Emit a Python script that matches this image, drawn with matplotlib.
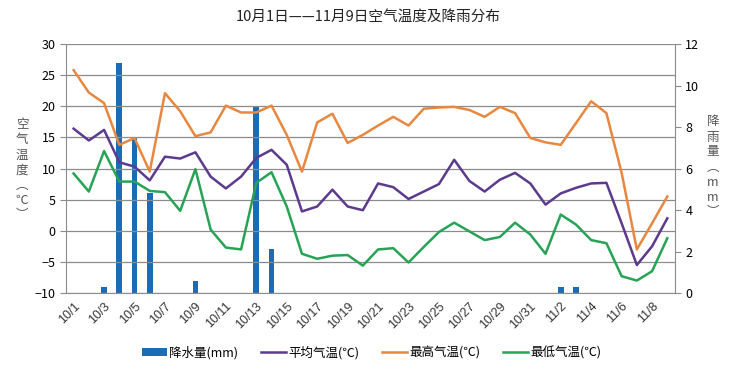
import numpy as np
import matplotlib
matplotlib.use('Agg')
import matplotlib.pyplot as plt

plt.rcParams['font.family'] = ['Noto Sans CJK SC', 'DejaVu Sans']

#---------------- data ----------------
dates = ['10/%d' % d for d in range(1, 32)] + ['11/%d' % d for d in range(1, 10)]

rain = [0, 0, 0.3, 11.1, 7.5, 4.8, 0, 0, 0.6, 0,
        0, 0, 9.0, 2.1, 0, 0, 0, 0, 0, 0,
        0, 0, 0, 0, 0, 0, 0, 0, 0, 0,
        0, 0, 0.3, 0.3, 0, 0, 0, 0, 0, 0]

t_mean = [16.4, 14.5, 16.2, 11.0, 10.3, 8.1, 11.9, 11.6, 12.6, 8.7,
          6.8, 8.7, 11.7, 13.0, 10.6, 3.1, 3.9, 6.6, 3.9, 3.3,
          7.6, 7.0, 5.1, 6.3, 7.5, 11.4, 8.0, 6.3, 8.2, 9.3,
          7.6, 4.2, 6.0, 6.9, 7.6, 7.7, 1.2, -5.5, -2.5, 2.0]

t_max = [25.8, 22.2, 20.5, 13.8, 14.9, 9.5, 22.1, 19.2, 15.2, 15.8,
         20.1, 19.0, 19.0, 20.1, 15.4, 9.5, 17.4, 18.8, 14.1, 15.4,
         16.9, 18.3, 16.9, 19.6, 19.8, 19.9, 19.4, 18.3, 19.9, 18.9,
         14.9, 14.2, 13.8, 17.3, 20.8, 18.9, 9.3, -3.0, 1.2, 5.5]

t_min = [9.2, 6.3, 12.8, 7.9, 7.9, 6.4, 6.2, 3.2, 9.9, 0.2,
         -2.7, -3.0, 7.7, 9.4, 3.9, -3.7, -4.5, -4.0, -3.9, -5.6,
         -3.0, -2.8, -5.1, -2.6, -0.2, 1.3, -0.1, -1.5, -1.0, 1.3,
         -0.6, -3.7, 2.6, 1.0, -1.5, -2.0, -7.3, -8.0, -6.5, -1.2]

left_title = ['空', '气', '温', '度', '︵', '℃', '︶']
right_title = ['降', '雨', '量', '︵', 'm', 'm', '︶']
#--------------------------------------

x = np.arange(len(dates))

fig = plt.figure(figsize=(7.36, 3.71), dpi=100)
ax = fig.add_axes([0.0897, 0.2102, 0.8273, 0.6712])
ax2 = ax.twinx()

# temperature lines on left axis, rain bars on right axis (drawn behind)
ax.set_zorder(2)
ax.patch.set_visible(False)
ax2.set_zorder(1)

bars = ax2.bar(x, rain, width=0.38, color='#1a6cb5', label='降水量(mm)')
l1, = ax.plot(x, t_mean, color='#5c3a8e', lw=1.8, label='平均气温(℃)')
l2, = ax.plot(x, t_max, color='#e8873f', lw=1.8, label='最高气温(℃)')
l3, = ax.plot(x, t_min, color='#27a356', lw=1.8, label='最低气温(℃)')

ax.set_xlim(-0.5, 39.5)
ax.set_ylim(-10, 30)
ax.set_yticks(range(-10, 31, 5))
ax2.set_ylim(0, 12)
ax2.set_yticks(range(0, 13, 2))

ax.yaxis.grid(True, color='#8c8c8c', lw=0.9)
ax.set_axisbelow(True)
ax2.yaxis.grid(False)

ax.set_xticks(x[::2])
ax.set_xticklabels(dates[::2], rotation=45, ha='right', rotation_mode='anchor',
                   fontsize=9, family='Liberation Sans', color='#333333')
ax.tick_params(axis='x', length=0, pad=5)
ax.tick_params(axis='y', labelsize=9, length=4, color='#8c8c8c', direction='out')
ax2.tick_params(axis='y', labelsize=9, length=4, color='#8c8c8c', direction='out')

for a in (ax, ax2):
    for s in a.spines.values():
        s.set_visible(False)
ax.spines['left'].set_visible(True)
ax.spines['left'].set_color('#8c8c8c')
ax2.spines['right'].set_visible(True)
ax2.spines['right'].set_color('#8c8c8c')
ax.spines['bottom'].set_visible(True)
ax.spines['bottom'].set_color('#8c8c8c')

# stacked vertical axis titles, one character per line
for i, ch in enumerate(left_title):
    fig.text(22 / 736, 1 - (125 + i * 15) / 371, ch, ha='center', va='center',
             fontsize=9, color='#555555')
for i, ch in enumerate(right_title):
    fig.text(713 / 736, 1 - (122 + i * 15) / 371, ch, ha='center', va='center',
             fontsize=9, color='#555555')

fig.text(0.5, 0.955, '10月1日——11月9日空气温度及降雨分布', ha='center', va='center',
         fontsize=10.5, color='#222222')

fig.legend(handles=[bars, l1, l2, l3], loc='center', bbox_to_anchor=(0.505, 0.05),
           ncol=4, frameon=False, fontsize=9, handlelength=2.0, columnspacing=1.8,
           handletextpad=0.2)

plt.savefig('out.png', dpi=100)
